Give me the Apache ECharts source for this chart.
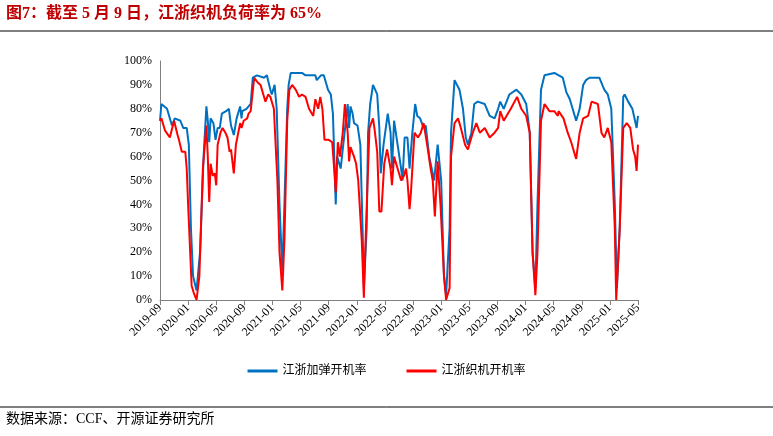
<!DOCTYPE html>
<html><head><meta charset="utf-8">
<script src="https://cdn.jsdelivr.net/npm/echarts@6/dist/echarts.min.js"></script>
<style>html,body{margin:0;padding:0;background:#fff}#c{width:773px;height:436px}</style>
</head><body><div id="c"></div>
<script>
const tickLabels = ['2019-09','2020-01','2020-05','2020-09','2021-01','2021-05','2021-09','2022-01','2022-05','2022-09','2023-01','2023-05','2023-09','2024-01','2024-05','2024-09','2025-01','2025-05'];
const seriesNames = ['江浙加弹开机率','江浙织机开机率'];
// x = months since 2019-09
const blueX = [0,0.2,1,1.7,2.1,2.9,3.3,3.8,4.1,4.4,4.7,5.2,5.7,6.2,6.6,6.8,7.0,7.2,7.6,7.9,8.2,8.5,8.8,9.4,9.8,10.1,10.5,10.9,11.4,11.6,11.7,12.3,12.9,13.2,13.8,14.8,15.2,15.7,15.9,16.3,16.6,17,17.4,17.7,18.1,18.3,18.6,20.2,20.7,22.1,22.3,22.9,23.3,23.9,24.3,24.6,25,25.2,25.7,26.7,26.9,27.1,27.4,27.6,28.1,28.5,28.9,29.0,29.4,29.6,29.9,30.3,30.9,31.2,31.4,31.8,32.4,32.8,33.0,33.3,33.8,34.3,34.5,34.8,35.2,35.5,35.9,36.3,36.6,37.0,37.5,37.8,38.3,39.0,39.5,40.0,40.4,40.7,41.2,41.4,41.9,42.6,43.1,43.5,43.8,44.3,44.7,45.2,46.2,46.9,47.6,48.1,48.4,48.9,49.7,50.7,51.4,52.1,52.6,53.0,53.4,53.7,54.2,54.7,56.1,57.3,57.8,58.3,58.7,59.2,59.7,60.2,60.6,61.1,62.5,63.2,63.7,64.2,64.7,65.0,65.4,65.9,66.1,66.6,67.2,67.8,68];
const blueY = [75,82,80,73,76,75,72,72,65,30,10,4,20,60,81,75,66,76,74,67,72,72,78,79,80,73,69,76,81,76,79,80,82,93,94,93,94,88,86,90,80,40,12,40,80,90,95,95,94,94,92,94,94,88,86,78,40,60,55,82,72,81,78,74,73,65,20,5,30,70,82,90,86,72,53,65,78,70,55,75,65,55,50,68,68,55,70,82,77,76,72,73,60,50,65,50,10,2,30,70,92,88,80,68,65,70,82,83,82,77,76,80,83,80,86,88,86,82,70,20,5,40,88,94,95,93,87,84,80,75,80,90,92,93,93,88,86,80,40,5,30,85,86,83,80,72,77];
const redPoints = [[0,75],[0.2,76],[0.7,71],[1.4,68],[2.0,75],[2.5,69],[2.7,67],[3.1,62],[3.6,62],[3.8,55],[4.0,40],[4.5,6],[4.8,3],[5.2,0],[5.6,10],[6.1,55],[6.6,73],[6.8,60],[7.0,41],[7.2,57],[7.5,52],[7.8,53],[8.0,48],[8.2,65],[8.6,70],[8.9,72],[9.3,70],[9.6,68],[9.9,62],[10.1,63],[10.5,53],[10.8,65],[11.0,68],[11.4,74],[11.6,72],[11.9,75],[12.4,76],[12.6,78],[12.9,79],[13.4,93],[13.9,91],[14.3,90],[14.7,86],[15.0,83],[15.4,86],[15.7,85],[16.2,80],[16.7,50],[17.0,20],[17.4,4],[17.7,25],[18.1,75],[18.4,88],[18.8,90],[19.3,88],[19.8,85],[20.2,86],[20.7,85],[21.2,80],[21.8,77],[22.1,84],[22.5,80],[22.8,85],[23.1,80],[23.4,67],[24.0,67],[24.5,66],[24.9,50],[25.0,45],[25.3,66],[25.6,60],[26.0,70],[26.3,82],[26.7,70],[26.9,58],[27.1,64],[27.6,60],[27.9,57],[28.2,50],[28.7,25],[29.0,1],[29.3,30],[29.8,72],[30.3,76],[30.5,72],[30.9,62],[31.2,37],[31.5,37],[31.9,57],[32.3,63],[32.8,55],[33.0,48],[33.3,60],[33.8,55],[34.3,50],[34.7,52],[35.0,55],[35.2,50],[35.5,38],[35.7,45],[36.2,70],[36.7,68],[37.1,70],[37.5,74],[38.0,65],[38.5,55],[38.8,50],[39.1,35],[39.5,58],[39.9,40],[40.4,10],[40.7,0],[41.2,5],[41.4,60],[41.9,74],[42.4,76],[42.8,72],[43.4,65],[43.8,63],[44.5,70],[45.0,74],[45.5,70],[46.2,72],[46.9,68],[47.6,70],[48.1,72],[48.4,79],[48.9,75],[49.5,78],[49.9,80],[50.8,85],[51.4,80],[52.1,77],[52.6,70],[53.0,20],[53.4,2],[53.7,20],[54.2,75],[54.7,82],[55.4,79],[56.1,79],[56.6,77],[56.7,79],[57.4,76],[58.0,70],[58.5,66],[59.2,59],[59.7,70],[60.2,76],[60.9,77],[61.4,83],[62.3,82],[62.8,70],[63.2,68],[63.7,72],[64.2,66],[64.7,30],[64.9,0],[65.4,30],[65.9,72],[66.4,74],[66.9,72],[67.3,63],[67.6,60],[67.8,54],[68,65]];
const pairs = (xs, ys) => xs.map((x, i) => [x, ys[i]]);
const serif = '"Liberation Serif","Times New Roman","Noto Sans CJK SC",serif';
const chart = echarts.init(document.getElementById('c'));
chart.setOption({
  animation: false,
  graphic: [
    {type:'text', left:6, top:6, style:{text:'图7：截至 5 月 9 日，江浙织机负荷率为 65%', font:'bold 16px "Liberation Serif","Noto Sans CJK SC",serif', fill:'#c00000'}},
    {type:'line', shape:{x1:0,y1:31,x2:773,y2:31}, style:{stroke:'#000',lineWidth:1}},
    {type:'line', shape:{x1:0,y1:407,x2:773,y2:407}, style:{stroke:'#000',lineWidth:1}},
    {type:'text', left:6, top:412, style:{text:'数据来源：CCF、开源证券研究所', font:'14px "Liberation Serif","Noto Sans CJK SC",serif', fill:'#000'}}
  ],
  legend: {
    bottom: 54, left: 'center', itemWidth: 30, itemHeight: 3, itemGap: 40,
    icon: 'rect',
    textStyle: {fontFamily: serif, fontSize: 12, color: '#000'},
    data: seriesNames
  },
  grid: {left: 160, right: 135, top: 61, bottom: 136},
  xAxis: {
    type: 'value', min: 0, max: 68, interval: 4,
    splitLine: {show: false},
    axisLine: {lineStyle: {color: '#808080'}},
    axisTick: {show: true, lineStyle: {color: '#808080'}},
    axisLabel: {rotate: 45, fontFamily: serif, fontSize: 12, color: '#000', margin: 6,
      formatter: v => tickLabels[Math.round(v / 4)] || ''}
  },
  yAxis: {
    type: 'value', min: 0, max: 100, interval: 10,
    splitLine: {show: false},
    axisLine: {show: true, lineStyle: {color: '#808080'}},
    axisTick: {show: false},
    axisLabel: {formatter: '{value}%', fontFamily: serif, fontSize: 12, color: '#000'}
  },
  series: [
    {name: seriesNames[0], type: 'line', data: pairs(blueX, blueY), showSymbol: false, lineStyle: {color: '#0070c0', width: 2}, itemStyle: {color: '#0070c0'}},
    {name: seriesNames[1], type: 'line', data: redPoints, showSymbol: false, lineStyle: {color: '#ff0000', width: 2}, itemStyle: {color: '#ff0000'}}
  ]
});
</script></body></html>
